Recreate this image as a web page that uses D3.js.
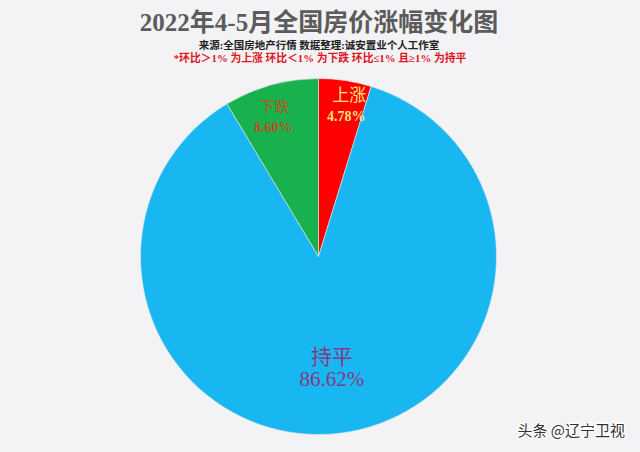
<!DOCTYPE html>
<html><head><meta charset="utf-8">
<script src="https://cdn.jsdelivr.net/npm/d3@7"></script>
<style>
html,body{margin:0;padding:0;background:#f3f3f5;}
svg{display:block;}
</style></head>
<body>
<script>
const categories = ["上涨", "持平", "下跌"];
const values = [4.78, 86.62, 8.60];
const labels = ["4.78%", "86.62%", "8.60%"];
const colors = ["#ff0000", "#19b7f1", "#17b24e"];
const nameColors = ["#ffe27a", "#843a82", "#b8521e"];

const W = 640, H = 452;
const svg = d3.select("body").append("svg").attr("width", W).attr("height", H);
svg.append("rect").attr("width", W).attr("height", H).attr("fill", "#f3f3f5");

const serif = "'Liberation Serif','Noto Sans CJK SC',serif";

svg.append("text").attr("x", 319).attr("y", 31).attr("text-anchor", "middle")
  .attr("font-family", serif).attr("font-weight", "bold").attr("font-size", 25)
  .attr("fill", "#5b5b5b").text("2022年4-5月全国房价涨幅变化图");
svg.append("text").attr("x", 319).attr("y", 49).attr("text-anchor", "middle")
  .attr("font-family", serif).attr("font-weight", "bold").attr("font-size", 10.5)
  .attr("fill", "#222").text("来源:全国房地产行情 数据整理:诚安置业个人工作室");
svg.append("text").attr("x", 320).attr("y", 62).attr("text-anchor", "middle")
  .attr("font-family", serif).attr("font-weight", "bold").attr("font-size", 10.8)
  .attr("fill", "#e0141e").text("*环比＞1% 为上涨 环比＜1% 为下跌 环比≤1% 且≥1% 为持平");

const cx = 318.5, cy = 256.5, r = 178;
const pie = d3.pie().sort(null).value(d => d);
const arcs = pie(values);
const arc = d3.arc().innerRadius(0).outerRadius(r);
const g = svg.append("g").attr("transform", `translate(${cx},${cy})`);
g.selectAll("path").data(arcs).enter().append("path")
  .attr("d", arc).attr("fill", (d, i) => colors[i])
  .attr("stroke", "#e8e8e8").attr("stroke-width", 0.6);

// label placement: radius factor along slice centroid, plus small shifts
const labelR = [0.857, 0.627, 0.825];
const nameDx = [8, 0, -5];
const valDx = [5, 0, -6];
const nameDy = [-5, -3.5, -3];
const valDy = [15, 19, 17];
const nameSizes = [17, 21, 15];
const valSizes = [14, 21, 14];
arcs.forEach((a, i) => {
  const la = d3.arc().innerRadius(r * labelR[i]).outerRadius(r * labelR[i]);
  const [x0, y] = la.centroid(a);
  const t = g.append("text").attr("text-anchor", "middle")
    .attr("font-family", serif);
  t.append("tspan").attr("x", x0 + nameDx[i]).attr("y", y + nameDy[i])
    .attr("font-size", nameSizes[i]).attr("font-weight", "normal")
    .attr("fill", nameColors[i]).text(categories[i]);
  t.append("tspan").attr("x", x0 + valDx[i]).attr("y", y + valDy[i])
    .attr("font-size", valSizes[i]).attr("font-weight", i === 1 ? "normal" : "bold")
    .attr("fill", nameColors[i]).text(labels[i]);
});

svg.append("text").attr("x", 625).attr("y", 436).attr("text-anchor", "end")
  .attr("font-family", "'Noto Sans CJK SC',sans-serif").attr("font-size", 15)
  .attr("fill", "#333").attr("stroke", "#fff").attr("stroke-width", 2.5)
  .attr("paint-order", "stroke").text("头条 @辽宁卫视");
</script>
</body></html>
